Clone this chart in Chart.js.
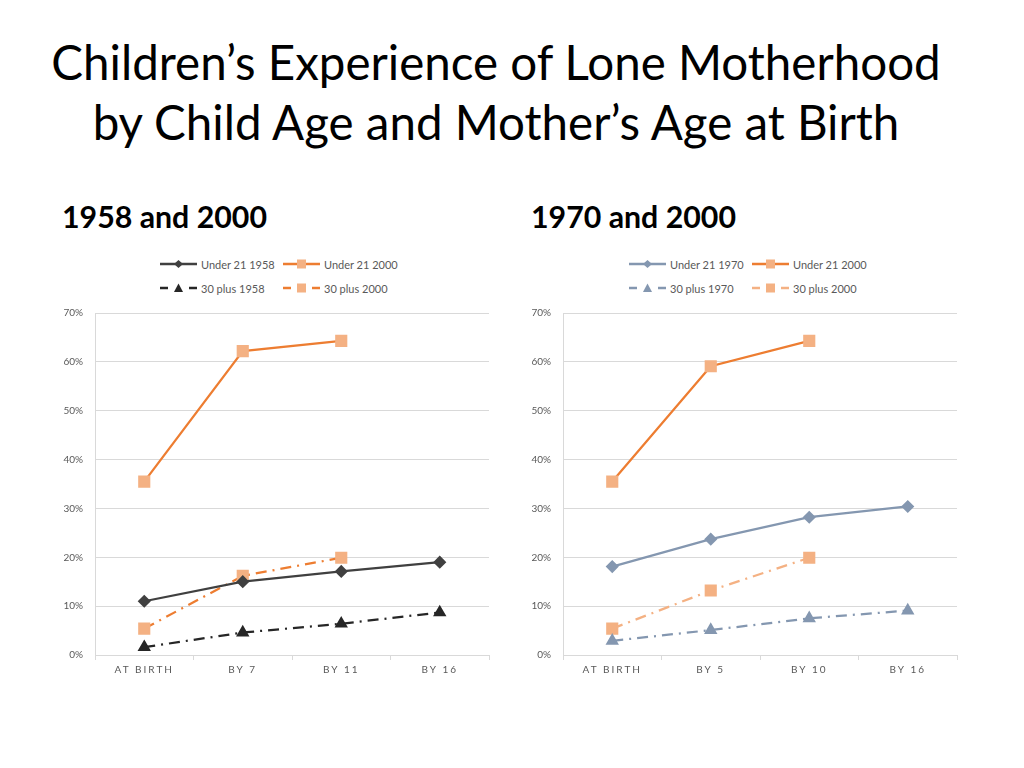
<!DOCTYPE html>
<html>
<head>
<meta charset="utf-8">
<script src="https://cdn.jsdelivr.net/npm/chart.js@4.4.1/dist/chart.umd.min.js"></script>
<style>
  body { margin: 0; width: 1024px; height: 768px; background: #fff; font-family: Lato, "Open Sans", sans-serif; position: relative; overflow: hidden; }
  #title { position: absolute; left: 0; top: 32px; width: 992px; text-align: center; font-size: 47.5px; line-height: 60px; color: #000; }
  .sub { position: absolute; top: 198px; font-size: 30.3px; font-weight: bold; color: #000; }
  .legend { position: absolute; font-size: 11px; color: #595959; }
  .legend .item { position: absolute; white-space: nowrap; display: flex; align-items: center; }
  .legend svg { margin-right: 4px; }
  .box { position: absolute; width: 460px; height: 390px; top: 295px; }
</style>
</head>
<body>
<div id="title">Children’s Experience of Lone Motherhood<br>by Child Age and Mother’s Age at Birth</div>
<div class="sub" style="left:62px">1958 and 2000</div>
<div class="sub" style="left:531px">1970 and 2000</div>
<div class="legend" id="legend1" style="left:160px; top:256px"></div>
<div class="legend" id="legend2" style="left:629px; top:256px"></div>
<div class="box" style="left:40px"><canvas id="chart1"></canvas></div>
<div class="box" style="left:508px"><canvas id="chart2"></canvas></div>
<script>
const categories1 = ["AT BIRTH", "BY 7", "BY 11", "BY 16"];
const categories2 = ["AT BIRTH", "BY 5", "BY 10", "BY 16"];

const under21_1958 = [11.0, 15.0, 17.1, 19.0];
const under21_2000a = [35.5, 62.2, 64.3, null];
const plus30_1958 = [1.6, 4.6, 6.4, 8.7];
const plus30_2000a = [5.4, 16.2, 19.9, null];

const under21_1970 = [18.1, 23.7, 28.2, 30.4];
const under21_2000b = [35.5, 59.1, 64.3, null];
const plus30_1970 = [2.9, 5.1, 7.5, 9.1];
const plus30_2000b = [5.4, 13.2, 19.9, null];

const yTicks = [0, 10, 20, 30, 40, 50, 60, 70];

const dashDot = [11, 6, 2, 6];

function series(label, data, line, marker, style, dash) {
  const r = style === "rect" ? 7 : style === "triangle" ? 5.5 : 5;
  return {
    label,
    data,
    borderColor: line,
    backgroundColor: marker,
    pointBackgroundColor: marker,
    pointBorderColor: marker,
    pointStyle: style,
    pointRadius: r,
    pointHoverRadius: r,
    borderWidth: 2.25,
    borderDash: dash || [],
    tension: 0,
    spanGaps: false,
  };
}

// letter spaced x labels
const spacedX = {
  id: "spacedX",
  beforeDraw(chart) {
    const sc = chart.scales.x;
    if (!sc || sc._spaced) return;
    const orig = sc.drawLabels;
    sc.drawLabels = function (area) {
      chart.ctx.save();
      chart.ctx.letterSpacing = "2px";
      orig.call(this, area);
      chart.ctx.restore();
    };
    sc._spaced = true;
  },
};

function makeChart(id, labels, datasets) {
  return new Chart(document.getElementById(id), {
    type: "line",
    data: { labels, datasets },
    plugins: [spacedX],
    options: {
      responsive: true,
      maintainAspectRatio: false,
      animation: false,
      plugins: { legend: { display: false }, tooltip: { enabled: false } },
      layout: { padding: { top: 8, right: 11, bottom: 0, left: 0 } },
      scales: {
        x: {
          offset: true,
          grid: { offset: true, drawOnChartArea: false, drawTicks: true, tickLength: 5, color: "#D9D9D9" },
          border: { color: "#D9D9D9" },
          ticks: { color: "#595959", font: { family: "Lato", size: 10 }, padding: 4, maxRotation: 0 },
          afterFit(s) { s.height = 30; },
        },
        y: {
          min: 0,
          max: 70,
          afterBuildTicks(s) { s.ticks = yTicks.map(v => ({ value: v })); },
          grid: { color: "#D9D9D9", drawTicks: false },
          border: { color: "#D9D9D9" },
          ticks: { color: "#595959", font: { family: "Lato", size: 10 }, padding: 12, callback: v => v + "%" },
          afterFit(s) { s.width = 55; },
        },
      },
    },
  });
}

function buildLegend(el, datasets) {
  const pos = [[0, 0], [123, 0], [0, 24], [123, 24]];
  datasets.forEach((d, i) => {
    const div = document.createElement("div");
    div.className = "item";
    div.style.left = pos[i][0] + "px";
    div.style.top = pos[i][1] + "px";
    let m = "";
    if (d.pointStyle === "rect") m = `<rect x="14" y="3.5" width="9" height="9" fill="${d.pointBackgroundColor}"/>`;
    if (d.pointStyle === "rectRot") m = `<polygon points="18.5,4 23,8 18.5,12 14,8" fill="${d.pointBackgroundColor}"/>`;
    if (d.pointStyle === "triangle") m = `<polygon points="18.5,3.5 23,12 14,12" fill="${d.pointBackgroundColor}"/>`;
    const dash = d.borderDash.length ? `<line x1="0" y1="8" x2="8" y2="8" stroke="${d.borderColor}" stroke-width="2.5"/><line x1="29" y1="8" x2="37" y2="8" stroke="${d.borderColor}" stroke-width="2.5"/>`
      : `<line x1="0" y1="8" x2="37" y2="8" stroke="${d.borderColor}" stroke-width="2.5"/>`;
    div.innerHTML = `<svg width="37" height="16">${dash}${m}</svg><span>${d.label}</span>`;
    el.appendChild(div);
  });
}

const ds1 = [
  series("Under 21 1958", under21_1958, "#404040", "#404040", "rectRot"),
  series("Under 21 2000", under21_2000a, "#ED7D31", "#F4B183", "rect"),
  series("30 plus 1958", plus30_1958, "#262626", "#262626", "triangle", dashDot),
  series("30 plus 2000", plus30_2000a, "#ED7D31", "#F4B183", "rect", dashDot),
];
const ds2 = [
  series("Under 21 1970", under21_1970, "#8497B0", "#8497B0", "rectRot"),
  series("Under 21 2000", under21_2000b, "#ED7D31", "#F4B183", "rect"),
  series("30 plus 1970", plus30_1970, "#8497B0", "#8497B0", "triangle", dashDot),
  series("30 plus 2000", plus30_2000b, "#F4B183", "#F4B183", "rect", dashDot),
];

makeChart("chart1", categories1, ds1);
makeChart("chart2", categories2, ds2);
buildLegend(document.getElementById("legend1"), ds1);
buildLegend(document.getElementById("legend2"), ds2);
</script>
</body>
</html>
